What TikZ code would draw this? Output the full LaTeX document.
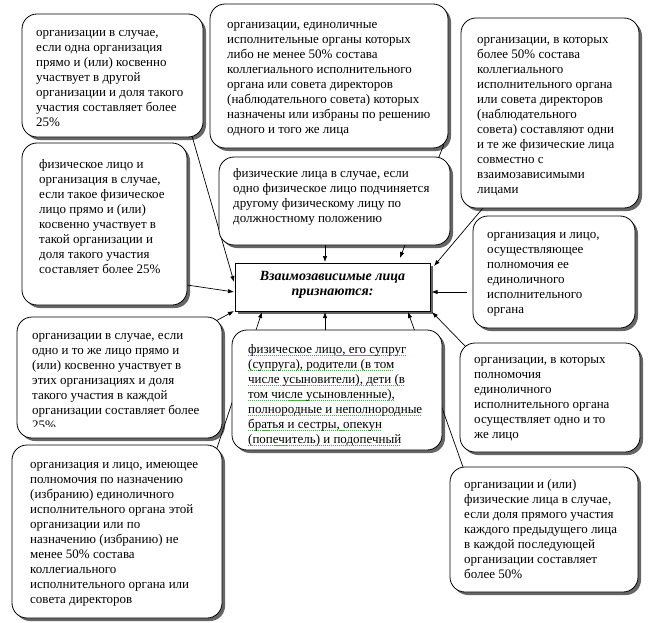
\documentclass[tikz,border=0pt]{standalone}
\usepackage{fontspec}
\setmainfont{Liberation Serif}
\usetikzlibrary{calc,shadows,arrows.meta}
\pgfdeclarelayer{bg}
\pgfsetlayers{bg,main}
\definecolor{sqgreen}{RGB}{70,175,70}
\newsavebox\sqbox
\newcommand\sqline[1]{\sbox\sqbox{#1}\rlap{\color{sqgreen}\xleaders\hbox{\rule[-2.8pt]{1.1pt}{0.9pt}\kern0.9pt}\hskip\wd\sqbox}\usebox\sqbox}
\newcommand\txtlines[1]{\begin{tabular}[t]{@{}l@{}}#1\end{tabular}}
\tikzset{
  rbox/.style={draw=black, line width=0.8pt, rounded corners=15pt, fill=white,
    inner sep=0pt, outer sep=0pt,
    drop shadow={shadow xshift=3pt, shadow yshift=-3pt, fill=black, opacity=0.6}},
  cbox/.style={draw=black, line width=0.8pt, fill=white, inner sep=0pt, outer sep=0pt,
    drop shadow={shadow xshift=3pt, shadow yshift=-3pt, fill=black, opacity=0.6}},
  btxt/.style={anchor=base west, inner sep=0pt, font=\fontsize{13}{15}\selectfont},
  ctxt/.style={anchor=base, inner sep=0pt, font=\fontsize{14}{15}\selectfont\bfseries\itshape},
  conn/.style={line width=0.7pt, -{Latex[length=6pt,width=4.5pt]}},
}
\begin{document}
\begin{tikzpicture}[x=1pt,y=-1pt]
\useasboundingbox (0,0) rectangle (650,623);

% boxes
\node[rbox, minimum width=181pt, minimum height=123pt] (b1) at (112.5,75.5) {};
\node[rbox, minimum width=238pt, minimum height=144pt] (b2) at (329,76) {};
\node[rbox, minimum width=178pt, minimum height=190pt] (b3) at (550,113) {};
\node[rbox, minimum width=165pt, minimum height=162pt] (b4) at (104.5,224) {};
\node[rbox, minimum width=231pt, minimum height=88pt] (b5) at (334.5,201) {};
\node[rbox, minimum width=162pt, minimum height=112pt] (b6) at (554,272) {};
\node[rbox, minimum width=205pt, minimum height=121pt] (b7) at (119.5,377.5) {};
\node[rbox, minimum width=210pt, minimum height=120pt] (b8) at (337,390) {};
\node[rbox, minimum width=180pt, minimum height=109pt] (b9) at (550,397.5) {};
\node[rbox, minimum width=210pt, minimum height=173pt] (b10) at (117,531.5) {};
\node[rbox, minimum width=188pt, minimum height=125pt] (b11) at (544,529.5) {};
\node[cbox, minimum width=195pt, minimum height=48pt] (c) at (332.5,287) {};

% texts
\node[btxt] (t1) at (36,37) {\txtlines{организации в случае,\\если одна организация\\прямо и (или) косвенно\\участвует в другой\\организации и доля такого\\участия составляет более\\25\%}};
\node[btxt] (t2) at (227,29) {\txtlines{организации, единоличные\\исполнительные органы которых\\либо не менее 50\% состава\\коллегиального исполнительного\\органа или совета директоров\\(наблюдательного совета) которых\\назначены или избраны по решению\\одного и того же лица}};
\node[btxt] (t3) at (477,44) {\txtlines{организации, в которых\\более 50\% состава\\коллегиального\\исполнительного органа\\или совета директоров\\(наблюдательного\\совета) составляют одни\\и те же физические лица\\совместно с\\взаимозависимыми\\лицами}};
\node[btxt] (t4) at (39,168) {\txtlines{физическое лицо и\\организация в случае,\\если такое физическое\\лицо прямо и (или)\\косвенно участвует в\\такой организации и\\доля такого участия\\составляет более 25\%}};
\node[btxt] (t5) at (233,177) {\txtlines{физические лица в случае, если\\одно физическое лицо подчиняется\\другому физическому лицу по\\должностному положению}};
\node[btxt] (t6) at (487,238) {\txtlines{организация и лицо,\\осуществляющее\\полномочия ее\\единоличного\\исполнительного\\органа}};
\begin{scope}
\clip (b7.north west) rectangle ($(b7.south east)+(0,-11.5)$);
\node[btxt] (t7) at (32,339) {\txtlines{организации в случае, если\\одно и то же лицо прямо и\\(или) косвенно участвует в\\этих организациях и доля\\такого участия в каждой\\организации составляет более\\25\%}};
\end{scope}
\node[btxt] (t8) at (248,353) {\txtlines{\sqline{физическое лицо, его супруг}\\\sqline{(супруга), родители (в том}\\\sqline{числе усыновители), дети (в}\\\sqline{том числе усыновленные),}\\\sqline{полнородные и неполнородные}\\\sqline{братья и сестры, опекун}\\\sqline{(попечитель) и подопечный}}};
\node[btxt] (t9) at (474,363) {\txtlines{организации, в которых\\полномочия\\единоличного\\исполнительного органа\\осуществляет одно и то\\же лицо}};
\node[btxt] (t10) at (30,468) {\txtlines{организация и лицо, имеющее\\полномочия по назначению\\(избранию) единоличного\\исполнительного органа этой\\организации или по\\назначению (избранию) не\\менее 50\% состава\\коллегиального\\исполнительного органа или\\совета директоров}};
\node[btxt] (t11) at (464,488) {\txtlines{организации и (или)\\физические лица в случае,\\если доля прямого участия\\каждого предыдущего лица\\в каждой последующей\\организации составляет\\более 50\%}};
\node[ctxt] (ct) at (332.5,280) {\begin{tabular}[t]{@{}c@{}}Взаимозависимые лица\\признаются:\end{tabular}};

% connectors
\begin{pgfonlayer}{bg}
\draw[conn] ($(b1.south east)+(-11,-1)$) -- ($(c.north west)+(-1,19)$);
\draw[conn] ($(b4.south east)+(0,-20)$) -- ($(c.west)+(-1,5)$);
\draw[conn] ($(b7.north east)+(-8,5)$) -- ($(c.south west)+(-1,0)$);
\draw[conn] ($(b10.north east)+(-6,6)$) -- ($(c.south west)+(27,1)$);
\draw[conn] ($(b8.north)+(-12,0)$) -- ($(c.south)+(-7.5,1)$);
\draw[conn] ($(b11.north west)+(13,0)$) -- ($(c.south east)+(-22,1)$);
\draw[conn] ($(b9.north west)+(6,4)$) -- ($(c.south east)+(2,1)$);
\draw[conn] ($(b6.south west)+(-6,-36)$) -- ($(c.east)+(1.5,5)$);
\draw[conn] ($(b3.south west)+(22,0)$) -- ($(c.north east)+(4,3)$);
\draw[conn] ($(b2.south east)+(-4,-4)$) -- ($(c.north east)+(-30,-5)$);
\draw[conn] ($(b5.south)+(-9.5,0)$) -- ($(c.north)+(-7.5,-1)$);
\end{pgfonlayer}
\end{tikzpicture}
\end{document}
